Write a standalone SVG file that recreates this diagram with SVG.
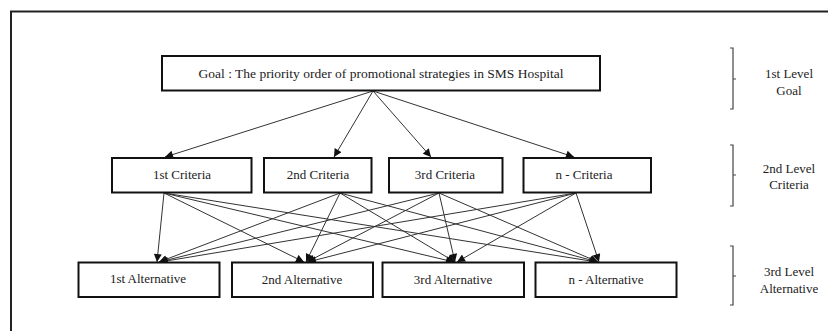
<svg xmlns="http://www.w3.org/2000/svg" width="828" height="331" viewBox="0 0 828 331">
<style>
.box{fill:#fff;stroke:#111;stroke-width:2}
.t{font-family:"Liberation Serif","Times New Roman",serif;font-size:13px;fill:#222;text-anchor:middle}
.c{stroke:#333;stroke-width:1;fill:none;marker-end:url(#ah)}
.br{stroke:#444;stroke-width:1.2;fill:none}
</style>
<defs>
<marker id="ah" viewBox="0 0 10 10" refX="10" refY="5" markerWidth="10" markerHeight="8" markerUnits="userSpaceOnUse" orient="auto">
<path d="M0,0 L10,5 L0,10 z" fill="#111"/>
</marker>
</defs>
<rect width="828" height="331" fill="#fff"/>
<rect x="11" y="11.5" width="830" height="330" fill="none" stroke="#222" stroke-width="2"/>
<g id="connectors">
<line class="c" x1="373" y1="91" x2="165" y2="157"/>
<line class="c" x1="373" y1="91" x2="334" y2="157"/>
<line class="c" x1="373" y1="91" x2="431" y2="157"/>
<line class="c" x1="373" y1="91" x2="574" y2="157"/>
<line class="c" x1="164" y1="193" x2="157" y2="262"/>
<line class="c" x1="164" y1="193" x2="304" y2="262"/>
<line class="c" x1="164" y1="193" x2="454" y2="262"/>
<line class="c" x1="164" y1="193" x2="597" y2="262"/>
<line class="c" x1="340" y1="193" x2="159" y2="262"/>
<line class="c" x1="340" y1="193" x2="306" y2="262"/>
<line class="c" x1="340" y1="193" x2="455" y2="262"/>
<line class="c" x1="340" y1="193" x2="598" y2="262"/>
<line class="c" x1="439" y1="193" x2="159" y2="262"/>
<line class="c" x1="439" y1="193" x2="307" y2="262"/>
<line class="c" x1="439" y1="193" x2="455" y2="262"/>
<line class="c" x1="439" y1="193" x2="598" y2="262"/>
<line class="c" x1="576" y1="193" x2="160" y2="262"/>
<line class="c" x1="576" y1="193" x2="308" y2="262"/>
<line class="c" x1="576" y1="193" x2="457" y2="262"/>
<line class="c" x1="576" y1="193" x2="599" y2="262"/>
</g>
<g id="goal">
<rect class="box" x="162" y="56" width="438" height="34.5"/>
<text class="t" x="381" y="77.5" style="font-size:13.5px">Goal : The priority order of promotional strategies in SMS Hospital</text>
</g>
<g id="crit1">
<rect class="box" x="112" y="158" width="139.5" height="34.5"/>
<text class="t" x="182" y="179">1st Criteria</text>
</g>
<g id="crit2">
<rect class="box" x="264" y="158" width="107.5" height="34.5"/>
<text class="t" x="318" y="179">2nd Criteria</text>
</g>
<g id="crit3">
<rect class="box" x="389" y="158" width="113.5" height="34.5"/>
<text class="t" x="445" y="179">3rd Criteria</text>
</g>
<g id="critn">
<rect class="box" x="523.5" y="158" width="127.5" height="34.5"/>
<text class="t" x="584" y="179">n - Criteria</text>
</g>
<g id="alt1">
<rect class="box" x="78.5" y="262.5" width="141" height="34.5"/>
<text class="t" x="148" y="282.5">1st Alternative</text>
</g>
<g id="alt2">
<rect class="box" x="232" y="262.5" width="141" height="34.5"/>
<text class="t" x="302" y="283.5">2nd Alternative</text>
</g>
<g id="alt3">
<rect class="box" x="382.5" y="262.5" width="141.5" height="34.5"/>
<text class="t" x="453" y="283.5">3rd Alternative</text>
</g>
<g id="altn">
<rect class="box" x="535.5" y="262.5" width="141" height="34.5"/>
<text class="t" x="606" y="283.5">n - Alternative</text>
</g>
<g id="level1">
<path class="br" d="M730,48 H733 V109 H730 M733,79 H736"/>
<text class="t" x="789" y="78">1st Level</text>
<text class="t" x="789" y="95">Goal</text>
</g>
<g id="level2">
<path class="br" d="M730,145 H733 V206 H730 M733,175 H736"/>
<text class="t" x="789" y="172.5">2nd Level</text>
<text class="t" x="789" y="189">Criteria</text>
</g>
<g id="level3">
<path class="br" d="M730,246 H733 V305 H730 M733,276 H736"/>
<text class="t" x="789" y="276">3rd Level</text>
<text class="t" x="789" y="293">Alternative</text>
</g>
</svg>
